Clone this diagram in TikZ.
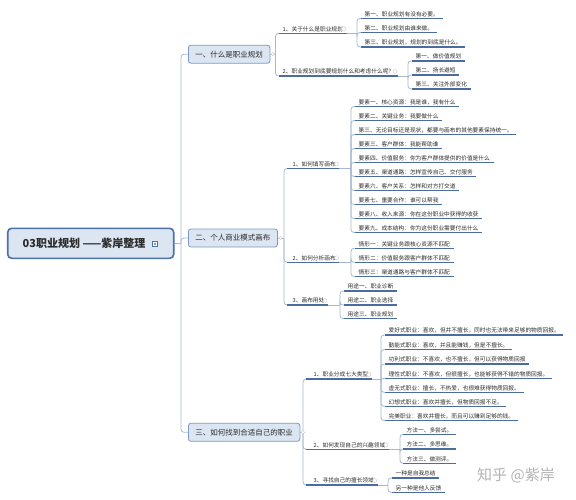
\documentclass[tikz,border=0pt]{standalone}
\usepackage{fontspec}
\setmainfont{Noto Sans CJK SC}
\usetikzlibrary{calc}
\definecolor{boxfill}{HTML}{DCE6F2}
\definecolor{boxline}{HTML}{7A98C2}
\definecolor{rootline}{HTML}{4C72A8}
\definecolor{connc}{HTML}{A6B8CE}
\definecolor{ulc}{HTML}{4B6C9E}
\definecolor{txt}{HTML}{2A2A2A}
\definecolor{wm}{HTML}{B4B4B4}
\begin{document}
\begin{tikzpicture}[x=1pt,y=-1pt,
  every node/.style={text=txt},
  leaf/.style={anchor=south west, inner xsep=3.5pt, inner ysep=1pt,
    font=\fontsize{5.7}{6}\selectfont, text height=4.6pt, text depth=1pt},
  topic/.style={anchor=west, draw=boxline, fill=boxfill, rounded corners=2.5pt,
    inner xsep=7pt, inner ysep=0pt, minimum height=18pt, line width=0.8pt,
    font=\fontsize{7.5}{9}\selectfont},
  rootbox/.style={draw=rootline, fill=boxfill, rounded corners=4pt, line width=1.6pt,
    minimum width=166pt, minimum height=30pt, inner sep=0pt,
    font=\fontsize{11}{13}\selectfont\bfseries},
  conn/.style={draw=connc, line width=0.8pt, rounded corners=3pt},
  ul/.style={draw=ulc, line width=1.2pt},
  colmark/.style={draw=gray!45, fill=white, line width=0.4pt},
]
\useasboundingbox (0,0) rectangle (576,500);

% ---------- root and main topics ----------
\node[rootbox] (root) at (90.7,243.3) {\makebox[136pt][l]{03职业规划 ——紫岸整理}};
\draw[draw=rootline, fill=white, line width=0.6pt] (152.2,241.7) rectangle (157.2,246.7);
\fill[rootline!70] (153.5,243.0) rectangle (155.9,245.4);

\node[topic] (t1) at (188,54.2) {一、什么是职业规划};
\node[topic] (t2) at (188,238) {二、个人商业模式画布};
\node[topic] (t3) at (188,432.3) {三、如何找到合适自己的职业};

\coordinate (j0) at (181,243.3);
\draw[conn] (root.east) -- (j0);
\foreach \t in {t1,t2,t3} \draw[conn] (j0) |- (\t.west);

% ---------- level 2 ----------
\node[leaf] (a1) at (279,33.3) {1、关于什么是职业规划\hspace{4pt}};
\node[leaf] (a2) at (279,76) {2、职业规划到底要规划什么和考虑什么呢？\hspace{4pt}};
\node[leaf] (b1) at (287,168.5) {\hspace*{2pt}1、如何填写画布\hspace{4pt}};
\node[leaf] (b2) at (287,262.3) {\hspace*{2pt}2、如何分析画布\hspace{4pt}};
\node[leaf] (b3) at (287,305) {\hspace*{2pt}3、画布用处\hspace{4pt}};
\node[leaf] (c1) at (306,379) {\hspace*{4pt}1、职业分成七大类型\hspace{4pt}};
\node[leaf] (c2) at (306,449.3) {\hspace*{4pt}2、如何发现自己的兴趣领域\hspace{4pt}};
\node[leaf] (c3) at (306,485) {\hspace*{4pt}3、寻找自己的擅长领域\hspace{4pt}};
\foreach \n in {a1,a2,b1,b2,b3,c1,c2,c3} \draw[ul] (\n.south west) -- (\n.south east);

\coordinate (ja) at (275.5,54.2);
\coordinate (jb) at (284,238);
\coordinate (jc) at (303,432.3);
\draw[conn] (t1.east) -- (ja);
\draw[conn] (ja) |- (a1.south west);
\draw[conn] (ja) |- (a2.south west);
\draw[conn] (t2.east) -- (jb);
\foreach \n in {b1,b2,b3} \draw[conn] (jb) |- (\n.south west);
\draw[conn] (t3.east) -- (jc);
\foreach \n in {c1,c2,c3} \draw[conn] (jc) |- (\n.south west);

% ---------- level 3 ----------
\coordinate (ka1) at (357,33.3);
\draw[conn] (a1.south east) -- (ka1);
\foreach \y/\n/\t in {18.5/d1/第一、职业规划有没有必要。,
                      32.5/d2/第二、职业规划由谁来做。,
                      47/d3/第三、职业规划，规划的到底是什么。} {
  \node[leaf] (\n) at (361,\y) {\t};
  \draw[ul] (\n.south west) -- (\n.south east);
  \draw[conn] (ka1) |- (\n.south west);
}

\coordinate (ka2) at (408,76);
\draw[conn] (a2.south east) -- (ka2);
\foreach \y/\n/\t in {61/e1/第一、做价值规划,
                      75/e2/第二、扬长避短,
                      89/e3/第三、关注外部变化} {
  \node[leaf] (\n) at (412,\y) {\t};
  \draw[ul] (\n.south west) -- (\n.south east);
  \draw[conn] (ka2) |- (\n.south west);
}

\coordinate (kb1) at (351,168.5);
\draw[conn] (b1.south east) -- (kb1);
\foreach \y/\n/\t in {106.5/f1/要素一、核心资源：我是谁，我有什么,
                      120.5/f2/要素二、关键业务：我要做什么,
                      134.5/f3/第三、无论目标还是现状，都要与画布的其他要素保持统一。,
                      148.5/f4/要素三、客户群体：我能帮助谁,
                      162.5/f5/要素四、价值服务：你为客户群体提供的价值是什么,
                      176.5/f6/要素五、渠道通路：怎样宣传自己、交付服务,
                      190.5/f7/要素六、客户关系：怎样和对方打交道,
                      204.5/f8/要素七、重要合作：谁可以帮我,
                      218.5/f9/要素八、收入来源：你在这份职业中获得的收获,
                      232.5/f10/要素九、成本结构：你为这份职业需要付出什么} {
  \node[leaf] (\n) at (355,\y) {\t};
  \draw[ul] (\n.south west) -- (\n.south east);
  \draw[conn] (kb1) |- (\n.south west);
}

\coordinate (kb2) at (351,262.3);
\draw[conn] (b2.south east) -- (kb2);
\foreach \y/\n/\t in {248.3/g1/情形一：关键业务跟核心资源不匹配,
                      262.3/g2/情形二：价值服务跟客户群体不匹配,
                      276.5/g3/情形三：渠道通路与客户群体不匹配} {
  \node[leaf] (\n) at (355,\y) {\t};
  \draw[ul] (\n.south west) -- (\n.south east);
  \draw[conn] (kb2) |- (\n.south west);
}

\coordinate (kb3) at (340,305);
\draw[conn] (b3.south east) -- (kb3);
\foreach \y/\n/\t in {291/h1/用途一、职业诊断,
                      305/h2/用途二、职业选择,
                      318.5/h3/用途三、职业规划} {
  \node[leaf] (\n) at (344,\y) {\t};
  \draw[ul] (\n.south west) -- (\n.south east);
  \draw[conn] (kb3) |- (\n.south west);
}

\coordinate (kc1) at (381,379);
\draw[conn] (c1.south east) -- (kc1);
\foreach \y/\n/\t in {335/i1/爱好式职业：喜欢，但并不擅长，同时也无法带来足够的物质回报。,
                      349.5/i2/勤能式职业：喜欢，并且能赚钱，但是不擅长。,
                      364/i3/功利式职业：不喜欢，也不擅长，但可以获得物质回报,
                      378.3/i4/理性式职业：不喜欢，但很擅长，也能够获得不错的物质回报。,
                      392.3/i5/虚无式职业：擅长，不热爱，也很难获得物质回报。,
                      406.3/i6/幻想式职业：喜欢并擅长，但物质回报不足。,
                      420.5/i7/完美职业：喜欢并擅长，而且可以赚到足够的钱。} {
  \node[leaf] (\n) at (385,\y) {\t};
  \draw[ul] (\n.south west) -- (\n.south east);
  \draw[conn] (kc1) |- (\n.south west);
}

\coordinate (kc2) at (400,449.3);
\draw[conn] (c2.south east) -- (kc2);
\foreach \y/\n/\t in {434.3/m1/方法一、多尝试。,
                      449/m2/方法二、多思维。,
                      463.3/m3/方法三、做测评。} {
  \node[leaf] (\n) at (403,\y) {\t};
  \draw[ul] (\n.south west) -- (\n.south east);
  \draw[conn] (kc2) |- (\n.south west);
}

\coordinate (kc3) at (388,485);
\draw[conn] (c3.south east) -- (kc3);
\foreach \y/\n/\t in {478/p1/一种是自我总结,
                      492.3/p2/另一种是他人反馈} {
  \node[leaf] (\n) at (392,\y) {\t};
  \draw[ul] (\n.south west) -- (\n.south east);
  \draw[conn] (kc3) |- (\n.south west);
}

% ---------- collapse markers ----------
\foreach \n in {a1,a2,b1,b2,b3,c1,c2,c3}
  \draw[colmark] ($(\n.south east)+(-3,-4.5)$) circle (2pt);
\foreach \n in {t1,t2,t3}
  \draw[colmark] ($(\n.east)+(2.6,0)$) circle (1.8pt);

% ---------- watermark ----------
\node[text=wm, font=\fontsize{15}{17}\selectfont] (wmk) at (516,475) {知乎 @紫岸};
\end{tikzpicture}
\end{document}
